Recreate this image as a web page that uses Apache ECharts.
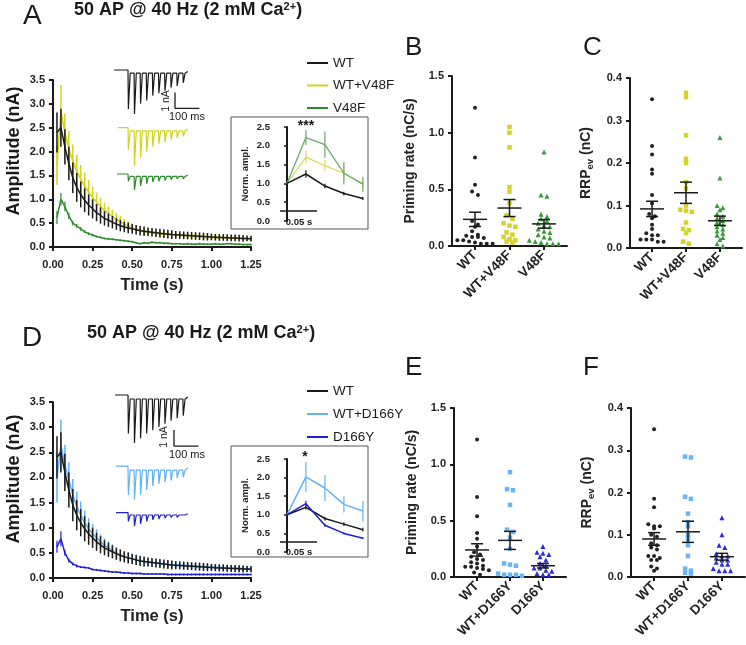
<!DOCTYPE html>
<html>
<head>
<meta charset="utf-8">
<title>50 AP @ 40 Hz (2 mM Ca2+)</title>
<script src="https://cdn.jsdelivr.net/npm/echarts@6.0.0/dist/echarts.min.js"></script>
<style>
  * { margin: 0; padding: 0; }
  #main { width: 746px; height: 645px; background: #fff; }
</style>
</head>
<body>
<div id="main"></div>
<script>
// ---------- data ----------
// stimulus times of the 50 APs (s)
let timeS = [0.025,0.05,0.075,0.1,0.125,0.15,0.175,0.2,0.225,0.25,
  0.275,0.3,0.325,0.35,0.375,0.4,0.425,0.45,0.475,0.5,
  0.525,0.55,0.575,0.6,0.625,0.65,0.675,0.7,0.725,0.75,
  0.775,0.8,0.825,0.85,0.875,0.9,0.925,0.95,0.975,1.0,
  1.025,1.05,1.075,1.1,1.125,1.15,1.175,1.2,1.225,1.25];

// EPSC amplitudes (nA), mean and SEM
let wtAmp = [2.40,2.50,2.10,1.75,1.45,1.25,1.10,0.98,0.88,0.80,
  0.72,0.66,0.60,0.56,0.52,0.48,0.45,0.42,0.40,0.38,
  0.36,0.34,0.33,0.32,0.31,0.30,0.29,0.28,0.27,0.26,
  0.255,0.25,0.245,0.24,0.235,0.23,0.225,0.22,0.215,0.21,
  0.205,0.20,0.20,0.195,0.19,0.19,0.185,0.18,0.18,0.175];
let wtErr = [0.42,0.40,0.37,0.35,0.32,0.30,0.27,0.25,0.22,0.20,
  0.18,0.17,0.15,0.14,0.13,0.12,0.12,0.11,0.11,0.10,
  0.10,0.10,0.10,0.09,0.09,0.09,0.09,0.09,0.09,0.09,
  0.08,0.08,0.08,0.08,0.08,0.08,0.08,0.08,0.08,0.07,
  0.07,0.07,0.07,0.07,0.07,0.07,0.07,0.07,0.06,0.06];

let v48fHetAmp = [1.70,2.85,2.40,2.05,1.80,1.60,1.42,1.28,1.15,1.04,
  0.94,0.85,0.77,0.70,0.64,0.58,0.53,0.48,0.44,0.40,
  0.37,0.35,0.33,0.31,0.30,0.29,0.28,0.27,0.26,0.255,
  0.25,0.245,0.24,0.235,0.23,0.225,0.22,0.215,0.21,0.205,
  0.20,0.20,0.195,0.19,0.19,0.185,0.18,0.18,0.175,0.17];
let v48fHetErr = [0.40,0.55,0.40,0.38,0.35,0.33,0.30,0.28,0.25,0.22,
  0.20,0.18,0.16,0.15,0.14,0.13,0.12,0.11,0.10,0.09,
  0.09,0.08,0.08,0.08,0.07,0.07,0.07,0.07,0.07,0.06,
  0.06,0.06,0.06,0.06,0.06,0.06,0.06,0.06,0.06,0.06,
  0.06,0.06,0.05,0.05,0.05,0.05,0.05,0.05,0.05,0.05];

let v48fAmp = [0.62,1.00,0.85,0.65,0.50,0.44,0.38,0.32,0.28,0.25,
  0.22,0.20,0.18,0.17,0.16,0.15,0.14,0.13,0.12,0.11,
  0.09,0.07,0.09,0.08,0.10,0.09,0.09,0.08,0.08,0.07,
  0.07,0.07,0.06,0.07,0.06,0.06,0.07,0.06,0.06,0.06,
  0.07,0.06,0.06,0.07,0.07,0.06,0.06,0.05,0.05,0.05];
let v48fErr = [0.14,0.13,0.10,0.07,0.05,0.04,0.04,0.03,0.03,0.03,
  0.02,0.02,0.02,0.02,0.02,0.02,0.02,0.02,0.02,0.02,
  0.02,0.02,0.02,0.02,0.02,0.02,0.02,0.02,0.02,0.02,
  0.02,0.02,0.02,0.02,0.02,0.02,0.02,0.02,0.02,0.02,
  0.02,0.02,0.02,0.02,0.02,0.02,0.02,0.02,0.02,0.02];

let d166yHetAmp = [2.00,2.65,2.25,1.95,1.65,1.42,1.25,1.10,0.98,0.88,
  0.80,0.72,0.65,0.60,0.55,0.50,0.46,0.43,0.40,0.38,
  0.36,0.34,0.33,0.32,0.31,0.30,0.29,0.28,0.27,0.265,
  0.26,0.255,0.25,0.245,0.24,0.235,0.23,0.225,0.22,0.215,
  0.21,0.21,0.205,0.20,0.20,0.195,0.19,0.19,0.185,0.18];
let d166yHetErr = [0.50,0.50,0.40,0.35,0.32,0.30,0.27,0.24,0.21,0.19,
  0.17,0.15,0.14,0.13,0.12,0.11,0.10,0.10,0.09,0.09,
  0.08,0.08,0.08,0.08,0.07,0.07,0.07,0.07,0.07,0.07,
  0.07,0.07,0.07,0.06,0.06,0.06,0.06,0.06,0.06,0.06,
  0.06,0.06,0.06,0.06,0.06,0.06,0.06,0.06,0.06,0.06];

let d166yAmp = [0.62,0.78,0.50,0.35,0.28,0.24,0.22,0.21,0.20,0.17,
  0.16,0.15,0.14,0.13,0.12,0.12,0.11,0.10,0.10,0.09,
  0.09,0.09,0.08,0.08,0.08,0.08,0.08,0.08,0.07,0.07,
  0.07,0.07,0.07,0.07,0.07,0.07,0.07,0.07,0.07,0.07,
  0.07,0.07,0.07,0.07,0.07,0.07,0.07,0.07,0.07,0.07];
let d166yErr = [0.12,0.15,0.06,0.04,0.03,0.03,0.02,0.02,0.02,0.02,
  0.02,0.02,0.02,0.02,0.02,0.02,0.02,0.02,0.02,0.02,
  0.02,0.02,0.02,0.02,0.02,0.02,0.02,0.02,0.02,0.02,
  0.02,0.02,0.02,0.02,0.02,0.02,0.02,0.02,0.02,0.02,
  0.02,0.02,0.02,0.02,0.02,0.02,0.02,0.02,0.02,0.02];

// normalised amplitudes of the first 5 EPSCs (inset)
let insetT = [0, 0.025, 0.05, 0.075, 0.1];
let insetWtA = [1.0, 1.25, 0.93, 0.73, 0.60];
let insetWtAErr = [0, 0.10, 0.06, 0.05, 0.04];
let insetV48fHet = [1.0, 1.70, 1.47, 1.27, 0.98];
let insetV48fHetErr = [0, 0.17, 0.15, 0.20, 0.10];
let insetV48f = [1.0, 2.22, 2.03, 1.27, 0.98];
let insetV48fErr = [0, 0.20, 0.35, 0.30, 0.20];
let insetWtD = [1.0, 1.20, 0.90, 0.75, 0.60];
let insetWtDErr = [0, 0.06, 0.05, 0.05, 0.05];
let insetD166yHet = [1.0, 2.02, 1.72, 1.28, 1.10];
let insetD166yHetErr = [0, 0.40, 0.35, 0.22, 0.28];
let insetD166y = [1.0, 1.30, 0.72, 0.50, 0.37];
let insetD166yErr = [0, 0.08, 0.04, 0.03, 0.03];

// example traces: pulse times (ms), peak amplitudes (nA)
let pulseT = [0, 25, 50, 75, 100, 125, 150, 175, 200, 225];
let trWtA = [2.44, 2.75, 2.10, 1.90, 1.60, 1.45, 1.30, 1.10, 1.00, 0.80];
let trV48fHet = [1.40, 2.40, 1.90, 1.50, 1.20, 1.00, 0.90, 0.75, 0.65, 0.55];
let trV48f = [0.45, 1.00, 0.75, 0.60, 0.50, 0.45, 0.40, 0.35, 0.30, 0.30];
let trWtD = [2.40, 3.00, 2.70, 2.40, 2.20, 2.00, 1.80, 1.60, 1.45, 1.30];
let trD166yHet = [1.80, 2.10, 1.80, 1.50, 1.25, 1.10, 1.00, 0.90, 0.75, 0.70];
let trD166y = [0.55, 0.85, 0.70, 0.55, 0.45, 0.40, 0.35, 0.30, 0.30, 0.25];

// single-cell values
let catsV = ['WT', 'WT+V48F', 'V48F'];
let catsD = ['WT', 'WT+D166Y', 'D166Y'];
let primB = [
  [1.22, 0.78, 0.54, 0.48, 0.45, 0.22, 0.19, 0.17, 0.13, 0.10, 0.09, 0.08, 0.08, 0.07, 0.05, 0.05, 0.04, 0.03, 0.02, 0.02, 0.02],
  [1.05, 1.00, 0.87, 0.52, 0.48, 0.38, 0.27, 0.24, 0.20, 0.18, 0.17, 0.12, 0.10, 0.08, 0.06, 0.05, 0.04, 0.03],
  [0.83, 0.45, 0.44, 0.28, 0.26, 0.24, 0.22, 0.20, 0.18, 0.17, 0.15, 0.13, 0.12, 0.10, 0.08, 0.07, 0.05, 0.04, 0.03, 0.02, 0.02, 0.02]
];
let primBMean = [0.235, 0.335, 0.195];
let primBSem = [0.063, 0.075, 0.038];
let rrpC = [
  [0.35, 0.24, 0.22, 0.185, 0.175, 0.125, 0.105, 0.08, 0.075, 0.07, 0.055, 0.045, 0.035, 0.03, 0.03, 0.02, 0.02, 0.02, 0.015, 0.015],
  [0.365, 0.355, 0.265, 0.21, 0.2, 0.155, 0.14, 0.1, 0.09, 0.088, 0.085, 0.06, 0.045, 0.042, 0.035, 0.015, 0.01],
  [0.26, 0.165, 0.1, 0.095, 0.09, 0.08, 0.075, 0.07, 0.065, 0.06, 0.055, 0.05, 0.045, 0.04, 0.035, 0.03, 0.025, 0.02, 0.01, 0.005]
];
let rrpCMean = [0.092, 0.13, 0.064];
let rrpCSem = [0.018, 0.025, 0.011];
let primE = [
  [1.22, 0.71, 0.54, 0.39, 0.34, 0.27, 0.22, 0.20, 0.18, 0.16, 0.15, 0.13, 0.12, 0.10, 0.09, 0.09, 0.08, 0.07, 0.06, 0.04, 0.02],
  [0.93, 0.78, 0.77, 0.64, 0.42, 0.40, 0.35, 0.25, 0.12, 0.11, 0.10, 0.03, 0.02, 0.02, 0.02, 0.01],
  [0.27, 0.22, 0.21, 0.20, 0.18, 0.15, 0.12, 0.10, 0.08, 0.08, 0.06, 0.05, 0.03, 0.02, 0.02]
];
let primEMean = [0.24, 0.325, 0.10];
let primESem = [0.055, 0.08, 0.02];
let rrpF = [
  [0.35, 0.185, 0.165, 0.125, 0.12, 0.12, 0.115, 0.10, 0.095, 0.08, 0.075, 0.07, 0.065, 0.05, 0.05, 0.045, 0.04, 0.04, 0.025, 0.02, 0.015],
  [0.285, 0.283, 0.19, 0.185, 0.15, 0.13, 0.12, 0.10, 0.09, 0.075, 0.05, 0.02, 0.015, 0.01, 0.008],
  [0.14, 0.10, 0.075, 0.07, 0.055, 0.05, 0.05, 0.045, 0.04, 0.04, 0.035, 0.03, 0.03, 0.02, 0.015, 0.015, 0.015]
];
let rrpFMean = [0.09, 0.107, 0.048];
let rrpFSem = [0.015, 0.025, 0.008];

// ---------- styles ----------
const FONT = 'Liberation Sans, Arial, sans-serif';
const INK = '#1a1a1a';
const C_WT = '#1a1a1a', C_YEL = '#d4d21f', C_GRN = '#2d8a2d', C_LB = '#63b1f6', C_DB = '#1f1fd2';

let myChart = echarts.init(document.getElementById('main'));

function pairs(xs, ys) { return xs.map((x, i) => [x, ys[i]]); }

function lineS(name, gi, data, color, width, z) {
  return { name: name, type: 'line', xAxisIndex: gi, yAxisIndex: gi, data: data, symbol: 'none',
    lineStyle: { color: color, width: width }, itemStyle: { color: color }, z: z, silent: true };
}
function errS(gi, xs, m, e, color, width, z) {
  return { type: 'custom', xAxisIndex: gi, yAxisIndex: gi, z: z, silent: true,
    data: xs.map((x, i) => [x, m[i] - e[i], m[i] + e[i]]),
    renderItem: function (p, api) {
      let a = api.coord([api.value(0), api.value(1)]);
      let b = api.coord([api.value(0), api.value(2)]);
      return { type: 'line', shape: { x1: a[0], y1: a[1], x2: b[0], y2: b[1] },
        style: { stroke: color, lineWidth: width } };
    } };
}
// simple beeswarm: values close together share a row and are spread sideways
function swarm(vals, cx, rowH, dx) {
  let s = vals.slice().sort((a, b) => b - a), rows = [], out = [];
  s.forEach(v => { let r = rows[rows.length - 1]; if (r && r[0] - v < rowH) r.push(v); else rows.push([v]); });
  rows.forEach(r => r.forEach((v, i) => out.push([cx + (i - (r.length - 1) / 2) * dx, v])));
  return out;
}
function dotS(gi, vals, cx, rowH, dx, symbol, size, color) {
  return { type: 'scatter', xAxisIndex: gi, yAxisIndex: gi, data: swarm(vals, cx, rowH, dx),
    symbol: symbol, symbolSize: size, itemStyle: { color: color, opacity: 1 }, z: 3, silent: true };
}
function meanS(gi, means, sems) {
  return { type: 'custom', xAxisIndex: gi, yAxisIndex: gi, z: 10, silent: true,
    data: means.map((m, i) => [i + 1, m, sems[i]]),
    renderItem: function (p, api) {
      let x = api.value(0), m = api.value(1), s = api.value(2);
      let c = api.coord([x, m]), lo = api.coord([x, m - s]), hi = api.coord([x, m + s]);
      let st = { stroke: INK, lineWidth: 1.5 };
      return { type: 'group', children: [
        { type: 'line', shape: { x1: c[0] - 12, y1: c[1], x2: c[0] + 12, y2: c[1] }, style: st },
        { type: 'line', shape: { x1: c[0], y1: lo[1], x2: c[0], y2: hi[1] }, style: st },
        { type: 'line', shape: { x1: c[0] - 6, y1: lo[1], x2: c[0] + 6, y2: lo[1] }, style: st },
        { type: 'line', shape: { x1: c[0] - 6, y1: hi[1], x2: c[0] + 6, y2: hi[1] }, style: st }
      ] };
    } };
}
// trace polyline from pulse peaks
function traceData(start, peaks, sag, base) {
  let d = [[start, base], [pulseT[0], base]];
  peaks.forEach((p, i) => {
    let t = pulseT[i];
    d.push([t + 1.5, base - p]);
    d.push([t + 9, base - sag]);
    if (i < peaks.length - 1) d.push([pulseT[i + 1], base - sag]);
  });
  d.push([pulseT[pulseT.length - 1] + 20, base - sag * 0.5]);
  return d;
}

// ---------- axes ----------
const axLine = { show: true, onZero: false, lineStyle: { color: INK, width: 2 } };
const axTick = { show: true, length: 4, lineStyle: { color: INK, width: 2 } };
const boldTxt = (size) => ({ fontFamily: FONT, fontWeight: 'bold', fontSize: size, color: '#222' });

function mainX(gi) {
  return { gridIndex: gi, type: 'value', min: 0, max: 1.25, interval: 0.25, axisLine: axLine, axisTick: axTick,
    axisLabel: Object.assign(boldTxt(11), { margin: 12, formatter: v => v.toFixed(2) }), splitLine: { show: false },
    name: 'Time (s)', nameLocation: 'middle', nameGap: 30, nameTextStyle: boldTxt(16.5) };
}
function mainY(gi) {
  return { gridIndex: gi, type: 'value', min: 0, max: 3.5, interval: 0.5, axisLine: axLine, axisTick: axTick,
    axisLabel: Object.assign(boldTxt(11), { margin: 8, formatter: v => v.toFixed(1) }), splitLine: { show: false } };
}
function insetX(gi) { return { gridIndex: gi, type: 'value', min: -0.017, max: 0.107, show: false }; }
function insetY(gi) {
  return { gridIndex: gi, type: 'value', min: 0, max: 2.5, interval: 0.5,
    axisLine: { show: true, lineStyle: { color: INK, width: 2 } }, axisTick: { show: true, length: 3, lineStyle: { color: INK, width: 1.5 } },
    axisLabel: Object.assign(boldTxt(9.5), { margin: 4, formatter: v => v.toFixed(1) }), splitLine: { show: false },
    name: 'Norm. ampl.', nameLocation: 'middle', nameGap: 24, nameTextStyle: boldTxt(9.5) };
}
function traceX(gi) { return { gridIndex: gi, type: 'value', min: -73.8, max: 295.1, show: false }; }
function traceY(gi, mn) { return { gridIndex: gi, type: 'value', min: mn, max: 0.3125, show: false }; }
function catX(gi, cats, mn, mx) {
  return { gridIndex: gi, type: 'value', min: mn, max: mx, axisLine: axLine,
    axisTick: { show: true, length: 4, customValues: [1, 2, 3], lineStyle: { color: INK, width: 2 } },
    axisLabel: Object.assign(boldTxt(13.5), { customValues: [1, 2, 3], rotate: 45, margin: 7, formatter: v => cats[Math.round(v) - 1] }),
    splitLine: { show: false } };
}
function scatY(gi, mx, iv, name) {
  return { gridIndex: gi, type: 'value', min: 0, max: mx, interval: iv, axisLine: axLine, axisTick: axTick,
    axisLabel: Object.assign(boldTxt(11), { margin: 8, formatter: v => v.toFixed(1) }), splitLine: { show: false },
    name: name, nameLocation: 'middle', nameGap: 35,
    nameTextStyle: Object.assign(boldTxt(14), { rich: {
      m: boldTxt(14),
      s: Object.assign(boldTxt(9.5), { verticalAlign: 'bottom', padding: [7, 0, 0, 0] }) } }) };
}
const rrpName = '{m|RRP}{s|ev}{m| (nC)}';

let grids = [
  { left: 53, top: 80, width: 198, height: 167 },     // A main
  { left: 274, top: 127, width: 94.2, height: 94 },   // A inset
  { left: 110, top: 65, width: 90, height: 130 },     // A traces
  { left: 452, top: 76, width: 115, height: 170 },    // B
  { left: 630, top: 78, width: 112, height: 170 },    // C
  { left: 53, top: 402, width: 198, height: 176 },    // D main
  { left: 274, top: 459, width: 94.2, height: 93 },   // D inset
  { left: 110, top: 390, width: 90, height: 150 },    // D traces
  { left: 454, top: 408, width: 112, height: 169 },   // E
  { left: 631, top: 408, width: 114, height: 169 }    // F
];

let xAxes = [mainX(0), insetX(1), traceX(2), catX(3, catsV, 0.333, 3.667), catX(4, catsV, 0.35, 3.65),
  mainX(5), insetX(6), traceX(7), catX(8, catsD, 0.3, 3.7), catX(9, catsD, 0.32, 3.68)];
let yAxes = [mainY(0), insetY(1), traceY(2, -7.8125), scatY(3, 1.5, 0.5, 'Priming rate (nC/s)'), scatY(4, 0.4, 0.1, rrpName),
  mainY(5), insetY(6), traceY(7, -9.0625), scatY(8, 1.5, 0.5, 'Priming rate (nC/s)'), scatY(9, 0.4, 0.1, rrpName)];

// ---------- series ----------
let series = [];
// A main
series.push(errS(0, timeS, v48fHetAmp, v48fHetErr, C_YEL, 1.5, 2));
series.push(lineS('WT+V48F', 0, pairs(timeS, v48fHetAmp), C_YEL, 1.5, 3));
series.push(errS(0, timeS, v48fAmp, v48fErr, C_GRN, 1.2, 4));
series.push(lineS('V48F', 0, pairs(timeS, v48fAmp), C_GRN, 1.5, 4));
series.push(errS(0, timeS, wtAmp, wtErr, C_WT, 1.5, 5));
series.push(lineS('WT', 0, pairs(timeS, wtAmp), C_WT, 1.5, 6));
// A inset
series.push(errS(1, insetT, insetV48fHet, insetV48fHetErr, '#dcd95c', 1.2, 2));
series.push(lineS('', 1, pairs(insetT, insetV48fHet), '#dcd95c', 1.3, 2));
series.push(errS(1, insetT, insetV48f, insetV48fErr, '#6aa96a', 1.2, 3));
series.push(lineS('', 1, pairs(insetT, insetV48f), '#6aa96a', 1.3, 3));
series.push(errS(1, insetT, insetWtA, insetWtAErr, C_WT, 1.2, 4));
series.push(lineS('', 1, pairs(insetT, insetWtA), C_WT, 1.5, 4));
// A traces
series.push(lineS('', 2, traceData(-57, trWtA, 0.2, 0), C_WT, 1.2, 2));
series.push(lineS('', 2, traceData(-41, trV48fHet, 0.2, -3.6), C_YEL, 1.2, 2));
series.push(lineS('', 2, traceData(-45, trV48f, 0.15, -6.5), C_GRN, 1.2, 2));
series.push(lineS('', 2, [[192.6, -1.4], [192.6, -2.4], [292.6, -2.4]], INK, 1.3, 2));
// B and C
[[3, primB, primBMean, primBSem, 0.035, 0.17], [4, rrpC, rrpCMean, rrpCSem, 0.0094, 0.17]].forEach(cfg => {
  let [gi, vals, m, s, rh, dx] = cfg;
  series.push(dotS(gi, vals[0], 1, rh, dx, 'circle', 4, '#222'));
  series.push(dotS(gi, vals[1], 2, rh, dx, 'rect', 4.5, '#d6d22a'));
  series.push(dotS(gi, vals[2], 3, rh, dx, 'triangle', 5, '#3a9a3a'));
  series.push(meanS(gi, m, s));
});
// D main
series.push(errS(5, timeS, d166yHetAmp, d166yHetErr, C_LB, 1.5, 2));
series.push(lineS('WT+D166Y', 5, pairs(timeS, d166yHetAmp), C_LB, 1.5, 3));
series.push(errS(5, timeS, d166yAmp, d166yErr, C_DB, 1.2, 4));
series.push(lineS('D166Y', 5, pairs(timeS, d166yAmp), C_DB, 1.5, 4));
series.push(errS(5, timeS, wtAmp, wtErr, C_WT, 1.5, 5));
series.push(lineS('WT', 5, pairs(timeS, wtAmp), C_WT, 1.5, 6));
// D inset
series.push(errS(6, insetT, insetD166yHet, insetD166yHetErr, C_LB, 1.2, 2));
series.push(lineS('', 6, pairs(insetT, insetD166yHet), C_LB, 1.5, 2));
series.push(errS(6, insetT, insetWtD, insetWtDErr, C_WT, 1.2, 3));
series.push(lineS('', 6, pairs(insetT, insetWtD), C_WT, 1.5, 3));
series.push(errS(6, insetT, insetD166y, insetD166yErr, C_DB, 1.2, 4));
series.push(lineS('', 6, pairs(insetT, insetD166y), C_DB, 1.5, 4));
// D traces
series.push(lineS('', 7, traceData(-53, trWtD, 0.25, 0), C_WT, 1.2, 2));
series.push(lineS('', 7, traceData(-49, trD166yHet, 0.25, -4.44), C_LB, 1.2, 2));
series.push(lineS('', 7, traceData(-49, trD166y, 0.15, -7.35), C_DB, 1.2, 2));
series.push(lineS('', 7, [[188.5, -2.19], [188.5, -3.19], [288.5, -3.19]], INK, 1.3, 2));
// E and F
[[8, primE, primEMean, primESem, 0.035, 0.18], [9, rrpF, rrpFMean, rrpFSem, 0.0094, 0.17]].forEach(cfg => {
  let [gi, vals, m, s, rh, dx] = cfg;
  series.push(dotS(gi, vals[0], 1, rh, dx, 'circle', 4, '#222'));
  series.push(dotS(gi, vals[1], 2, rh, dx, 'rect', 4.5, '#6ab4f5'));
  series.push(dotS(gi, vals[2], 3, rh, dx, 'triangle', 5, '#2a2ae0'));
  series.push(meanS(gi, m, s));
});

// ---------- annotations ----------
function txt(x, y, text, size, weight, align, extra) {
  return { type: 'text', z: 50, style: Object.assign({ x: x, y: y, text: text, fontFamily: FONT, fontSize: size,
    fontWeight: weight || 'normal', fill: '#1a1a1a', align: align || 'left', verticalAlign: 'middle' }, extra || {}) };
}
function rtxt(x, y, text, size, weight) {
  return { type: 'text', z: 50, x: x, y: y, rotation: Math.PI / 2,
    style: { x: 0, y: 0, text: text, fontFamily: FONT, fontSize: size, fontWeight: weight || 'normal',
      fill: '#1a1a1a', align: 'center', verticalAlign: 'middle' } };
}
function seg(x1, y1, x2, y2, color, w) {
  return { type: 'line', z: 50, shape: { x1: x1, y1: y1, x2: x2, y2: y2 }, style: { stroke: color, lineWidth: w } };
}
function legend(x, y0, gap, names, colors) {
  let out = [];
  names.forEach((n, i) => {
    out.push(seg(x, y0 + i * gap, x + 21, y0 + i * gap, colors[i], 2));
    out.push(txt(x + 26, y0 + i * gap, n, 13.5));
  });
  return out;
}
const titleRich = { rich: { s: { fontSize: 11, fontWeight: 'bold', fontFamily: FONT, verticalAlign: 'top', padding: [0, 0, 7, 0] } } };

let graphic = [
  txt(23, 16, 'A', 28),
  txt(74, 10, '50 AP @ 40 Hz (2 mM Ca{s|2+})', 18, 'bold', 'left', titleRich),
  txt(405, 48, 'B', 26),
  txt(583, 48, 'C', 26),
  txt(22, 338, 'D', 28),
  txt(87, 333, '50 AP @ 40 Hz (2 mM Ca{s|2+})', 18, 'bold', 'left', titleRich),
  txt(405, 368, 'E', 26),
  txt(583, 368, 'F', 26),
  // amplitude axis titles
  rtxt(14, 151, 'Amplitude (nA)', 18, 'bold'),
  rtxt(14, 479, 'Amplitude (nA)', 18, 'bold'),
  // inset frames
  { type: 'rect', z: 1, shape: { x: 231, y: 117, width: 137, height: 112 }, style: { fill: 'none', stroke: '#555', lineWidth: 1 } },
  { type: 'rect', z: 1, shape: { x: 231, y: 446, width: 137, height: 111 }, style: { fill: 'none', stroke: '#555', lineWidth: 1 } },
  // inset time bars
  seg(280, 211, 317, 211, INK, 1.5), txt(299, 222, '0.05 s', 9.5, 'bold', 'center'),
  seg(280, 542, 317, 542, INK, 1.5), txt(299, 552, '0.05 s', 9.5, 'bold', 'center'),
  txt(306, 126, '***', 14, 'bold', 'center'),
  txt(305, 457, '*', 14, 'bold', 'center'),
  // trace scale labels
  rtxt(166, 101, '1 nA', 10.5),
  txt(187, 117, '100 ms', 11, 'normal', 'center'),
  rtxt(164, 437, '1 nA', 10.5),
  txt(187, 455, '100 ms', 11, 'normal', 'center')
].concat(
  legend(307, 63, 22.5, ['WT', 'WT+V48F', 'V48F'], [C_WT, C_YEL, C_GRN]),
  legend(307, 391, 23, ['WT', 'WT+D166Y', 'D166Y'], [C_WT, C_LB, C_DB])
);

let option = {
  animation: false,
  backgroundColor: '#fff',
  grid: grids,
  xAxis: xAxes,
  yAxis: yAxes,
  series: series,
  graphic: graphic
};
myChart.setOption(option);
</script>
</body>
</html>
